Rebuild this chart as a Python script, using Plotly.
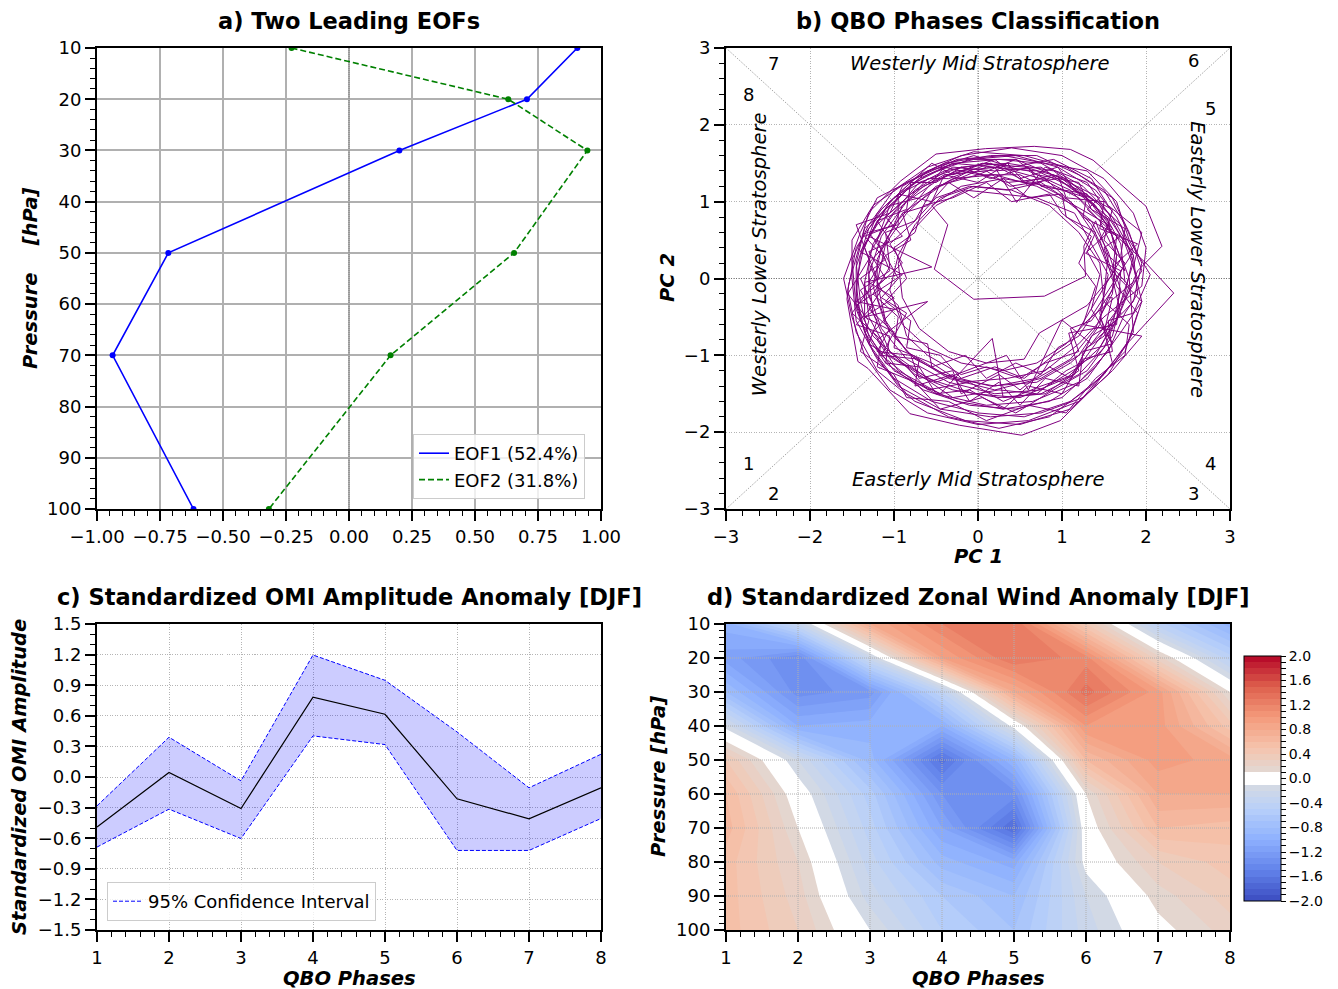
import plotly.graph_objects as go

W, H = 1338, 989
FONT = "DejaVu Sans"

# ---------------- data ----------------
# a) EOFs
eof_levels = [10, 20, 30, 50, 70, 100]
eof1 = [0.906, 0.706, 0.200, -0.717, -0.938, -0.617]
eof2 = [-0.228, 0.632, 0.946, 0.655, 0.165, -0.318]

# b) PC1 / PC2 trajectory (loop by loop)
pc_loops = [
    [(1.75, -0.05), (1.7, 0.45), (1.45, 0.95), (1.05, 1.3), (0.55, 1.45), (0.05, 1.5), (-0.45, 1.3), (-0.85, 1.0),
     (-1.15, 0.55), (-1.3, 0.05), (-1.25, -0.45), (-1.05, -0.95), (-0.6, -1.3), (-0.05, -1.5), (0.5, -1.55),
     (1.05, -1.3), (1.45, -0.9), (1.7, -0.45)],
    [(1.6, 0.0), (1.45, 0.5), (1.55, 0.7), (1.15, 0.95), (0.8, 1.3), (0.35, 1.25), (-0.1, 1.4), (-0.55, 1.15),
     (-0.75, 0.75), (-1.1, 0.6), (-1.05, 0.15), (-1.25, -0.2), (-0.95, -0.5), (-1.0, -0.9), (-0.55, -1.1),
     (-0.2, -1.35), (0.35, -1.3), (0.8, -1.2), (1.2, -0.85), (1.5, -0.5)],
    [(1.95, -0.1), (2.0, 0.4), (1.85, 0.85), (1.5, 1.3), (1.0, 1.6), (0.4, 1.7), (-0.2, 1.6), (-0.7, 1.35),
     (-1.15, 0.9), (-1.45, 0.4), (-1.55, -0.15), (-1.45, -0.7), (-1.2, -1.2), (-0.75, -1.6), (-0.15, -1.85),
     (0.5, -1.9), (1.1, -1.7), (1.55, -1.25), (1.85, -0.7)],
    [(1.8, 0.0), (1.7, 0.3), (1.75, 0.65), (1.35, 0.9), (1.2, 1.25), (0.7, 1.35), (0.45, 1.55), (0.0, 1.35),
     (-0.4, 1.45), (-0.7, 1.05), (-1.05, 0.95), (-1.2, 0.5), (-1.05, 0.1), (-1.4, -0.15), (-1.2, -0.55),
     (-1.3, -0.85), (-0.85, -1.15), (-0.6, -1.45), (-0.1, -1.35), (0.3, -1.6), (0.75, -1.4), (1.15, -1.25),
     (1.35, -0.75), (1.65, -0.55)],
    [(1.9, 0.1), (2.19, 0.42), (2.0, 0.94), (1.37, 1.54), (1.1, 1.68), (0.67, 1.72), (0.09, 1.69), (-0.5, 1.62),
     (-0.92, 1.27), (-1.3, 0.86), (-1.54, -0.08), (-1.56, -0.27), (-1.43, -1.08), (-1.31, -1.17), (-0.81, -1.76),
     (-0.22, -1.91), (0.52, -2.04), (0.98, -1.85), (1.35, -1.45), (1.8, -0.82), (2.33, -0.19)],
    [(2.0, 0.2), (1.6, 0.6), (1.3, 1.05), (0.85, 1.2), (0.3, 1.3), (-0.2, 1.2), (-0.55, 0.95), (-0.36, 0.70),
     (-0.52, 0.12), (-0.05, -0.27), (0.79, -0.23), (1.28, 0.03), (1.26, 0.42), (1.4, 0.75), (1.55, 0.3),
     (1.5, -0.2), (1.45, -0.6), (1.2, -1.0), (0.75, -1.3), (0.2, -1.45), (-0.35, -1.3), (-0.8, -1.0),
     (-1.1, -0.6), (-1.25, -0.1), (-1.15, 0.4), (-0.9, 0.85), (-0.45, 1.2), (0.1, 1.45), (0.7, 1.4),
     (1.2, 1.15), (1.55, 0.75)],
    [(1.65, 0.3), (1.6, -0.15), (1.35, -0.55), (1.1, -0.65), (1.2, -0.95), (0.8, -1.1), (0.5, -1.3), (0.1, -1.15),
     (-0.2, -1.25), (-0.6, -1.0), (-0.85, -0.75), (-0.95, -0.35), (-1.2, -0.1), (-0.9, 0.2), (-1.05, 0.45),
     (-0.75, 0.75), (-0.5, 1.05), (-0.1, 1.2), (0.35, 1.15), (0.75, 1.25), (1.1, 1.0), (1.35, 0.7), (1.5, 0.35)],
    [(1.75, 0.1), (1.6, 0.55), (1.4, 0.95), (1.0, 1.3), (0.45, 1.55), (-0.05, 1.55), (-0.6, 1.4), (-0.95, 1.05),
     (-1.35, 0.65), (-1.45, 0.2), (-1.4, -0.3), (-1.3, -0.75), (-1.0, -1.2), (-0.5, -1.5), (0.1, -1.65),
     (0.65, -1.6), (1.2, -1.35), (1.55, -0.95), (1.75, -0.45)],
    [(1.9, -0.2), (1.85, 0.3), (1.55, 0.8), (1.2, 1.1), (0.75, 1.45), (0.2, 1.4), (-0.3, 1.45), (-0.75, 1.15),
     (-1.1, 0.8), (-0.9, 0.55), (-1.3, 0.35), (-1.1, 0.0), (-1.45, -0.3), (-1.0, -0.4), (-1.25, -0.7),
     (-1.05, -1.0), (-0.7, -1.25), (-0.3, -1.55), (0.25, -1.45), (0.7, -1.5), (1.05, -1.2), (1.4, -1.0),
     (1.6, -0.6)],
    [(1.7, -0.15), (1.55, 0.35), (1.35, 0.75), (0.95, 1.1), (0.5, 1.35), (0.0, 1.35), (-0.5, 1.2), (-0.85, 0.85),
     (-1.1, 0.45), (-1.2, -0.05), (-1.1, -0.55), (-0.85, -0.95), (-0.4, -1.25), (0.15, -1.4), (0.7, -1.35),
     (1.1, -1.1), (1.5, -0.7)],
    [(1.85, -0.3), (1.95, 0.2), (1.75, 0.7), (1.5, 1.15), (1.05, 1.45), (0.55, 1.6), (-0.05, 1.65), (-0.6, 1.45),
     (-1.0, 1.15), (-1.3, 0.7), (-1.5, 0.25), (-1.45, -0.4), (-1.25, -0.95), (-0.95, -1.4), (-0.45, -1.7),
     (0.15, -1.8), (0.75, -1.75), (1.25, -1.55), (1.6, -1.1)],
    [(1.45, -0.45), (1.55, 0.05), (1.35, 0.45), (1.15, 0.85), (0.7, 1.05), (0.3, 1.1), (-0.15, 1.15), (-0.5, 0.95),
     (-0.8, 0.6), (-0.95, 0.2), (-0.9, -0.25), (-0.7, -0.65), (-0.35, -0.95), (0.1, -1.1), (0.55, -1.05),
     (0.73, -0.71), (1.0, -0.54), (1.3, -0.35)],
    [(1.6, 0.05), (1.65, 0.55), (1.3, 0.9), (1.45, 1.05), (0.9, 1.35), (0.55, 1.25), (0.2, 1.55), (-0.3, 1.35),
     (-0.55, 1.5), (-0.95, 1.1), (-1.2, 0.85), (-1.35, 0.4), (-1.2, 0.0), (-1.5, -0.45), (-1.15, -0.8),
     (-1.2, -1.15), (-0.75, -1.35), (-0.45, -1.7), (0.05, -1.55), (0.45, -1.75), (0.9, -1.45), (1.3, -1.2),
     (1.6, -0.75), (1.7, -0.3)],
    [(1.85, 0.2), (1.7, 0.7), (1.35, 1.05), (0.9, 1.4), (0.35, 1.5), (-0.2, 1.45), (-0.7, 1.25), (-1.05, 0.8),
     (-1.3, 0.3), (-1.3, -0.2), (-1.15, -0.65), (-0.85, -1.05), (-0.35, -1.35), (0.2, -1.5), (0.75, -1.45),
     (1.2, -1.15), (1.5, -0.7), (1.6, -0.25)],
    [(1.55, -0.25), (1.75, 0.2), (1.5, 0.5), (1.6, 0.9), (1.15, 1.15), (0.95, 1.45), (0.5, 1.3), (0.15, 1.5),
     (-0.35, 1.3), (-0.6, 1.3), (-0.9, 0.95), (-1.0, 0.7), (-1.35, 0.55), (-1.1, 0.25), (-1.4, 0.0),
     (-1.25, -0.35), (-1.45, -0.6), (-1.05, -0.75), (-1.1, -1.1), (-0.7, -1.15), (-0.5, -1.5), (-0.1, -1.45),
     (0.3, -1.7), (0.6, -1.4), (1.0, -1.5), (1.25, -1.05), (1.6, -0.95), (1.55, -0.55)],
    [(1.85, -0.45), (2.05, 0.05), (1.8, 0.5), (1.65, 1.0), (1.3, 1.4), (0.8, 1.5), (0.3, 1.6), (-0.25, 1.55),
     (-0.75, 1.3), (-1.2, 1.05), (-1.4, 0.6), (-1.6, 0.0), (-1.5, -0.5), (-1.35, -1.0), (-1.05, -1.45),
     (-0.6, -1.75), (0.0, -1.9), (0.6, -1.85), (1.2, -1.6), (1.6, -1.2), (1.95, -0.75)],
    [(1.25, -0.6), (1.4, -0.1), (1.2, 0.2), (1.35, 0.55), (1.0, 0.85), (0.85, 1.1), (0.4, 1.0), (0.1, 1.25),
     (-0.3, 1.05), (-0.65, 0.95), (-0.75, 0.6), (-1.0, 0.4), (-0.85, 0.0), (-1.1, -0.3), (-0.8, -0.55),
     (-0.85, -0.9), (-0.45, -1.0), (-0.2, -1.3), (0.2, -1.15), (0.55, -1.3), (0.9, -1.0), (1.1, -0.85)],
    [(1.7, 0.25), (1.55, 0.7), (1.2, 1.05), (0.75, 1.3), (0.25, 1.45), (-0.25, 1.4), (-0.65, 1.2), (-1.0, 0.85),
     (-1.25, 0.45), (-1.35, -0.05), (-1.3, -0.5), (-1.1, -0.9), (-0.75, -1.25), (-0.3, -1.45), (0.25, -1.55),
     (0.75, -1.5), (1.2, -1.25), (1.5, -0.9), (1.7, -0.4)],
    [(1.8, -0.1), (1.6, 0.15), (1.9, 0.45), (1.45, 0.65), (1.5, 1.0), (1.05, 1.05), (0.95, 1.35), (0.6, 1.2),
     (0.35, 1.5), (0.0, 1.25), (-0.4, 1.35), (-0.55, 1.0), (-0.95, 1.1), (-0.95, 0.7), (-1.3, 0.6), (-1.1, 0.3),
     (-1.3, -0.05), (-1.0, -0.25), (-1.35, -0.5), (-1.0, -0.7), (-1.15, -1.0), (-0.7, -1.05), (-0.75, -1.4),
     (-0.3, -1.25), (-0.1, -1.6), (0.25, -1.35), (0.5, -1.65), (0.8, -1.3), (1.2, -1.4), (1.25, -0.95),
     (1.6, -0.85), (1.45, -0.5)],
    [(1.6, -0.2), (1.65, 0.3), (1.45, 0.75), (1.1, 1.15), (0.6, 1.4), (0.1, 1.5), (-0.4, 1.4), (-0.85, 1.15),
     (-1.2, 0.75), (-1.4, 0.3), (-1.45, -0.2), (-1.35, -0.7), (-1.1, -1.1), (-0.65, -1.45), (-0.1, -1.65),
     (0.45, -1.7), (1.0, -1.55), (1.4, -1.15), (1.7, -0.7)],
    [(1.95, -0.3), (1.85, 0.15), (1.95, 0.6), (1.55, 0.95), (1.35, 1.3), (0.9, 1.55), (0.4, 1.45), (-0.05, 1.6),
     (-0.5, 1.45), (-0.9, 1.2), (-1.05, 0.85), (-1.45, 0.7), (-1.3, 0.25), (-1.55, -0.2), (-1.3, -0.55),
     (-1.4, -0.95), (-1.0, -1.25), (-0.85, -1.55), (-0.35, -1.6), (0.1, -1.85), (0.6, -1.65), (1.05, -1.75),
     (1.4, -1.3), (1.75, -1.0), (1.8, -0.6)],
    [(1.5, -0.3), (1.45, 0.2), (1.2, 0.6), (0.85, 0.95), (0.4, 1.15), (-0.05, 1.2), (-0.45, 1.05), (-0.75, 0.7),
     (-0.95, 0.3), (-1.05, -0.15), (-0.9, -0.6), (-0.6, -0.9), (-0.2, -1.1), (0.3, -1.2), (0.7, -1.1),
     (1.05, -0.85), (1.3, -0.55)],
    [(1.9, 0.0), (1.75, 0.45), (1.55, 0.85), (1.3, 1.25), (0.8, 1.45), (0.46, 0.99), (0.2, 1.45), (-0.3, 1.5),
     (-0.7, 1.3), (-1.05, 1.0), (-1.3, 0.55), (-0.55, 0.15), (-1.35, -0.05), (-1.35, -0.5), (-0.6, -0.3),
     (-1.2, -0.8), (-0.95, -1.2), (-0.45, -1.5), (0.17, -0.78), (0.3, -1.55), (0.8, -1.5), (1.2, -1.2),
     (1.08, -0.71), (1.65, -0.6)],
    [(1.7, 0.1), (1.28, 0.33), (1.6, 0.65), (1.35, 1.0), (0.95, 1.3), (0.38, 1.2), (0.1, 1.4), (-0.4, 1.35),
     (-0.8, 1.1), (-1.2, 0.7), (-1.4, 0.35), (-0.9, 0.05), (-1.45, -0.35), (-1.25, -0.75), (-0.9, -1.1),
     (-0.5, -1.35), (0.34, -1.0), (0.6, -1.45), (1.0, -0.54), (1.35, -0.85), (1.7, -0.35)],
    [(1.95, 0.1), (1.8, 0.6), (1.6, 1.05), (1.2, 1.35), (0.7, 1.6), (0.15, 1.6), (-0.4, 1.5), (-0.85, 1.25),
     (-1.25, 0.95), (-1.5, 0.5), (-1.5, 0.0), (-1.45, -0.55), (-1.2, -1.05), (-0.85, -1.5), (-0.35, -1.8),
     (0.25, -1.95), (0.85, -1.8), (1.35, -1.4), (1.75, -0.95), (1.9, -0.45)],
    [(1.65, -0.1), (1.5, 0.4), (1.7, 0.55), (1.25, 0.8), (1.3, 1.1), (0.75, 1.2), (0.6, 1.45), (0.15, 1.3),
     (-0.2, 1.45), (-0.5, 1.25), (-0.8, 1.25), (-0.85, 0.9), (-1.2, 0.75), (-1.05, 0.5), (-1.3, 0.2),
     (-1.15, -0.15), (-1.3, -0.4), (-1.05, -0.65), (-1.2, -0.95), (-0.8, -1.0), (-0.7, -1.3), (-0.3, -1.2),
     (-0.2, -1.5), (0.25, -1.25), (0.5, -1.45), (0.85, -1.15), (1.1, -1.3), (1.3, -0.9), (1.5, -0.75)],
    [(1.75, -0.2), (1.85, 0.3), (1.6, 0.8), (1.25, 1.2), (0.75, 1.5), (0.25, 1.55), (-0.3, 1.5), (-0.75, 1.25),
     (-1.1, 0.9), (-1.35, 0.45), (-1.45, -0.05), (-1.4, -0.55), (-1.15, -1.0), (-0.75, -1.35), (-0.25, -1.6),
     (0.3, -1.7), (0.85, -1.6), (1.3, -1.3), (1.6, -0.85)],
    [(1.35, -0.4), (1.45, 0.05), (1.3, 0.35), (1.4, 0.6), (1.05, 0.8), (1.0, 1.1), (0.6, 1.05), (0.3, 1.3),
     (-0.05, 1.05), (-0.35, 1.25), (-0.6, 0.95), (-0.9, 0.85), (-0.8, 0.5), (-1.1, 0.3), (-0.95, 0.0),
     (-1.15, -0.25), (-0.85, -0.45), (-1.0, -0.75), (-0.6, -0.85), (-0.55, -1.15), (-0.15, -1.0), (0.1, -1.3),
     (0.45, -1.1), (0.75, -1.25), (0.95, -0.9), (1.2, -0.75)],
    [(1.85, 0.35), (1.65, 0.8), (1.4, 1.15), (0.95, 1.45), (0.45, 1.6), (-0.1, 1.55), (-0.6, 1.35), (-1.0, 1.05),
     (-1.3, 0.65), (-1.45, 0.15), (-1.45, -0.35), (-1.3, -0.85), (-1.0, -1.3), (-0.55, -1.6), (0.0, -1.75),
     (0.55, -1.8), (1.1, -1.6), (1.5, -1.25), (1.8, -0.8), (1.95, -0.3)],
    [(1.55, 0.15), (1.4, 0.55), (1.15, 0.95), (0.7, 1.2), (0.2, 1.35), (-0.3, 1.3), (-0.7, 1.05), (-1.0, 0.7),
     (-1.2, 0.25), (-1.2, -0.25), (-1.05, -0.7), (-0.75, -1.05), (-0.3, -1.3), (0.2, -1.4), (0.7, -1.3),
     (1.1, -1.05), (1.4, -0.65), (1.55, -0.25)],
]
pc1 = [p[0] for loop in pc_loops for p in loop]
pc2 = [p[1] for loop in pc_loops for p in loop]

phase_labels = ["1", "2", "3", "4", "5", "6", "7", "8"]
phase_label_pc1 = [-2.73, -2.44, 2.57, 2.77, 2.77, 2.57, -2.44, -2.73]
phase_label_pc2 = [-2.41, -2.80, -2.80, -2.41, 2.21, 2.84, 2.80, 2.40]

# c) OMI amplitude
qbo_phases = [1, 2, 3, 4, 5, 6, 7, 8]
omi_mean = [-0.49, 0.044, -0.309, 0.782, 0.615, -0.214, -0.41, -0.106]
omi_upper = [-0.283, 0.390, -0.038, 1.196, 0.948, 0.442, -0.106, 0.223]
omi_lower = [-0.687, -0.315, -0.603, 0.403, 0.318, -0.72, -0.72, -0.407]

# d) zonal wind anomaly (rows: pressure levels, cols: QBO phases 1..8)
wind_levels = [10, 20, 30, 40, 50, 60, 70, 80, 90, 100]
wind_anom = [
    [-0.95, -0.30, 0.80, 1.20, 1.30, 0.40, -0.45, -0.95],
    [-1.15, -1.40, -0.25, 0.90, 1.30, 1.15, 0.25, -0.45],
    [-0.80, -1.35, -1.25, -0.40, 0.80, 1.35, 0.95, 0.10],
    [-0.15, -1.00, -0.95, -1.00, -0.05, 1.00, 0.95, 0.45],
    [0.40, -0.20, -0.85, -1.65, -0.90, 0.60, 0.95, 0.85],
    [0.60, 0.00, -0.55, -1.30, -1.35, 0.10, 0.80, 0.80],
    [0.65, 0.10, -0.45, -1.10, -1.70, 0.00, 0.60, 0.55],
    [0.55, 0.20, -0.35, -0.85, -1.05, -0.05, 0.30, 0.45],
    [0.55, 0.25, -0.25, -0.60, -0.80, -0.20, 0.15, 0.35],
    [0.55, 0.30, -0.10, -0.50, -0.70, -0.25, 0.05, 0.25],
]
cbar_major = [-2.0, -1.6, -1.2, -0.8, -0.4, 0.0, 0.4, 0.8, 1.2, 1.6, 2.0]
pressure_ticks = [10, 20, 30, 40, 50, 60, 70, 80, 90, 100]

# ---------------- colours ----------------
cw_pos = [0, .125, .25, .375, .5, .625, .75, .875, 1]
cw_rgb = [(59, 76, 192), (98, 130, 234), (141, 176, 254), (184, 208, 249), (221, 221, 221),
          (245, 196, 173), (244, 154, 123), (222, 96, 77), (180, 4, 38)]


def coolwarm(t):
    t = min(max(t, 0), 1)
    for i in range(len(cw_pos) - 1):
        if cw_pos[i] <= t <= cw_pos[i + 1]:
            f = (t - cw_pos[i]) / (cw_pos[i + 1] - cw_pos[i])
            c = [round(a + (b - a) * f) for a, b in zip(cw_rgb[i], cw_rgb[i + 1])]
            return "rgb(%d,%d,%d)" % tuple(c)
    return "rgb(180,4,38)"


nb = 40
cscale = []
for k in range(nb):
    mid = -2 + 4 * (k + 0.5) / nb
    col = "rgb(255,255,255)" if abs(mid) < 0.1 else coolwarm((mid + 2) / 4)
    cscale.append([k / nb, col])
    cscale.append([(k + 1) / nb, col])


def minus(s):
    return s.replace("-", "\u2212")


# ---------------- layout helpers ----------------
XA = [97 / W, 601 / W]
XB = [726 / W, 1230 / W]
YT = [1 - 509 / H, 1 - 48 / H]
YB = [1 - 930 / H, 1 - 624 / H]


def axis(domain, rng, dtick, mdtick, anchor, fmt=None, grid="dot", showgrid=True, tick0=None):
    d = dict(domain=domain, range=rng, dtick=dtick, anchor=anchor, automargin=False,
             showline=True, linecolor="black", linewidth=2, mirror=True,
             ticks="outside", ticklen=10, tickwidth=1.5, tickcolor="black",
             tickfont=dict(family=FONT, size=18, color="black"),
             zeroline=False, showgrid=showgrid, layer="above traces",
             minor=dict(dtick=mdtick, ticks="outside", ticklen=5, tickwidth=1, tickcolor="black",
                        showgrid=False))
    if tick0 is not None:
        d["tick0"] = tick0
        d["minor"]["tick0"] = tick0
    if fmt:
        d["tickformat"] = fmt
    if grid == "solid":
        d.update(gridcolor="#b0b0b0", gridwidth=2)
    else:
        d.update(gridcolor="#b4b4b4", gridwidth=1, griddash="1px,1.5px")
    return d


fig = go.Figure()

# ---- a) ----
fig.add_trace(go.Scatter(x=eof1, y=eof_levels, mode="lines", line=dict(color="#0000ff", width=1.6),
                         name="EOF1 (52.4%)", xaxis="x", yaxis="y", legend="legend"))
fig.add_trace(go.Scatter(x=eof2, y=eof_levels, mode="lines", line=dict(color="#008000", width=1.6, dash="6px,3px"),
                         name="EOF2 (31.8%)", xaxis="x", yaxis="y", legend="legend"))
fig.add_trace(go.Scatter(x=eof1, y=eof_levels, mode="markers", marker=dict(color="#0000ff", size=6),
                         showlegend=False, xaxis="x", yaxis="y"))
fig.add_trace(go.Scatter(x=eof2, y=eof_levels, mode="markers", marker=dict(color="#008000", size=6),
                         showlegend=False, xaxis="x", yaxis="y"))

# ---- b) ----
fig.add_trace(go.Scatter(x=pc1, y=pc2, mode="lines", line=dict(color="#800080", width=1),
                         showlegend=False, xaxis="x2", yaxis="y2"))

# ---- c) ----
fig.add_trace(go.Scatter(x=qbo_phases, y=omi_lower, mode="lines",
                         line=dict(color="#0000ff", width=1, dash="4px,2px"),
                         name="95% Confidence Interval", xaxis="x3", yaxis="y3", legend="legend2"))
fig.add_trace(go.Scatter(x=qbo_phases, y=omi_upper, mode="lines", fill="tonexty",
                         fillcolor="rgba(0,0,255,0.2)",
                         line=dict(color="#0000ff", width=1, dash="4px,2px"),
                         showlegend=False, xaxis="x3", yaxis="y3"))
fig.add_trace(go.Scatter(x=qbo_phases, y=omi_mean, mode="lines", line=dict(color="black", width=1.2),
                         showlegend=False, xaxis="x3", yaxis="y3"))

# ---- d) ----
cb_vals = [round(-2 + 0.1 * i, 1) for i in range(41)]
cb_text = [minus("%.1f" % v) if v in cbar_major else "" for v in cb_vals]
fig.add_trace(go.Contour(
    x=qbo_phases, y=wind_levels, z=wind_anom, xaxis="x4", yaxis="y4",
    colorscale=cscale, zmin=-2, zmax=2, autocontour=False,
    contours=dict(start=-2, end=2, size=0.1, coloring="fill", showlines=False),
    line=dict(width=0, smoothing=0), hoverinfo="skip",
    colorbar=dict(x=1244 / W, xanchor="left", y=1 - 778.5 / H, yanchor="middle",
                  len=245 / H, lenmode="fraction", thickness=37, thicknessmode="pixels",
                  xpad=0, ypad=0, outlinewidth=1, outlinecolor="black",
                  tickmode="array", tickvals=cb_vals, ticktext=cb_text,
                  ticks="outside", ticklen=5, tickcolor="black", tickwidth=1,
                  tickfont=dict(family=FONT, size=14, color="black")),
))

shapes = []
# a) zero line
shapes.append(dict(type="line", xref="x", yref="y", x0=0, x1=0, y0=10, y1=100, layer="between",
                   line=dict(color="#808080", width=1, dash="1px,1px")))
# b) reference lines
shapes.append(dict(type="line", xref="x2", yref="y2", x0=0, x1=0, y0=-3, y1=3, layer="between",
                   line=dict(color="#707070", width=1, dash="1px,1.5px")))
shapes.append(dict(type="line", xref="x2", yref="y2", x0=-3, x1=3, y0=0, y1=0, layer="between",
                   line=dict(color="#707070", width=1, dash="1px,1.5px")))
shapes.append(dict(type="line", xref="x2", yref="y2", x0=-3, x1=3, y0=-3, y1=3, layer="between",
                   line=dict(color="#8c8c8c", width=1, dash="1px,1.5px")))
shapes.append(dict(type="line", xref="x2", yref="y2", x0=-3, x1=3, y0=3, y1=-3, layer="between",
                   line=dict(color="#8c8c8c", width=1, dash="1px,1.5px")))
# d) grid drawn over the contours
for p in qbo_phases[1:-1]:
    shapes.append(dict(type="line", xref="x4", yref="y4", x0=p, x1=p, y0=10, y1=100, layer="above",
                       line=dict(color="#b0b0b0", width=1, dash="1px,1px")))
for lv in pressure_ticks[1:-1]:
    shapes.append(dict(type="line", xref="x4", yref="y4", x0=1, x1=8, y0=lv, y1=lv, layer="above",
                       line=dict(color="#b0b0b0", width=1, dash="1px,1px")))

ann = []


def paper_text(x, y, text, size, angle=0):
    ann.append(dict(xref="paper", yref="paper", x=x / W, y=1 - y / H, text=text, showarrow=False,
                    textangle=angle, xanchor="center", yanchor="middle",
                    font=dict(family=FONT, size=size, color="black")))


TS = 22.5
LS = 19.5
paper_text(349, 21, "<b>a) Two Leading EOFs</b>", TS)
paper_text(978, 21, "<b>b) QBO Phases Classification</b>", TS)
paper_text(349, 597, "<b>c) Standardized OMI Amplitude Anomaly [DJF]</b>", TS)
paper_text(978, 597, "<b>d) Standardized Zonal Wind Anomaly [DJF]</b>", TS)
paper_text(30, 278, "<b><i>Pressure\u00a0\u00a0\u00a0\u00a0[hPa]</i></b>", LS, -90)
paper_text(667, 278, "<b><i>PC 2</i></b>", LS, -90)
paper_text(978, 556, "<b><i>PC 1</i></b>", LS)
paper_text(19, 777, "<b><i>Standardized OMI Amplitude</i></b>", LS, -90)
paper_text(349, 978, "<b><i>QBO Phases</i></b>", LS)
paper_text(658, 777, "<b><i>Pressure [hPa]</i></b>", LS, -90)
paper_text(978, 978, "<b><i>QBO Phases</i></b>", LS)

for t, px, py in zip(phase_labels, phase_label_pc1, phase_label_pc2):
    ann.append(dict(xref="x2", yref="y2", x=px, y=py, text=t, showarrow=False,
                    font=dict(family=FONT, size=18, color="black")))


def region_text(x, y, text, angle=0):
    ann.append(dict(xref="x2", yref="y2", x=x, y=y, text="<i>%s</i>" % text, showarrow=False,
                    textangle=angle, font=dict(family=FONT, size=19.5, color="black")))


region_text(0.02, 2.80, "Westerly Mid Stratosphere")
region_text(0.0, -2.62, "Easterly Mid Stratosphere")
region_text(-2.60, 0.31, "Westerly Lower Stratosphere", -90)
region_text(2.62, 0.25, "Easterly Lower Stratosphere", 90)

fig.update_layout(
    template="none",
    width=W, height=H, margin=dict(l=0, r=0, t=0, b=0, autoexpand=False),
    paper_bgcolor="white", plot_bgcolor="white",
    font=dict(family=FONT, size=16, color="black"),
    xaxis=axis(XA, [-1, 1], 0.25, 0.05, "y", fmt=".2f", grid="solid"),
    yaxis=axis(YT, [100, 10], 10, 2, "x", grid="solid"),
    xaxis2=axis(XB, [-3, 3], 1, 0.2, "y2"),
    yaxis2=axis(YT, [-3, 3], 1, 0.2, "x2"),
    xaxis3=axis(XA, [1, 8], 1, 0.2, "y3"),
    yaxis3=axis(YB, [-1.5, 1.5], 0.3, 0.1, "x3", fmt=".1f", tick0=0),
    xaxis4=axis(XB, [1, 8], 1, 0.2, "y4", showgrid=False),
    yaxis4=axis(YB, [100, 10], 10, 2, "x4", showgrid=False),
    legend=dict(x=585 / W, y=1 - 499 / H, xanchor="right", yanchor="bottom", traceorder="normal",
                bgcolor="rgba(255,255,255,0.8)", bordercolor="#cccccc", borderwidth=1,
                font=dict(family=FONT, size=18, color="black"), tracegroupgap=0),
    legend2=dict(x=107 / W, y=1 - 921 / H, xanchor="left", yanchor="bottom",
                 bgcolor="rgba(255,255,255,0.8)", bordercolor="#cccccc", borderwidth=1,
                 font=dict(family=FONT, size=18, color="black")),
    shapes=shapes, annotations=ann,
)

fig.write_html("out.html", config={"displayModeBar": False},
               post_script="document.body.style.margin='0';")
